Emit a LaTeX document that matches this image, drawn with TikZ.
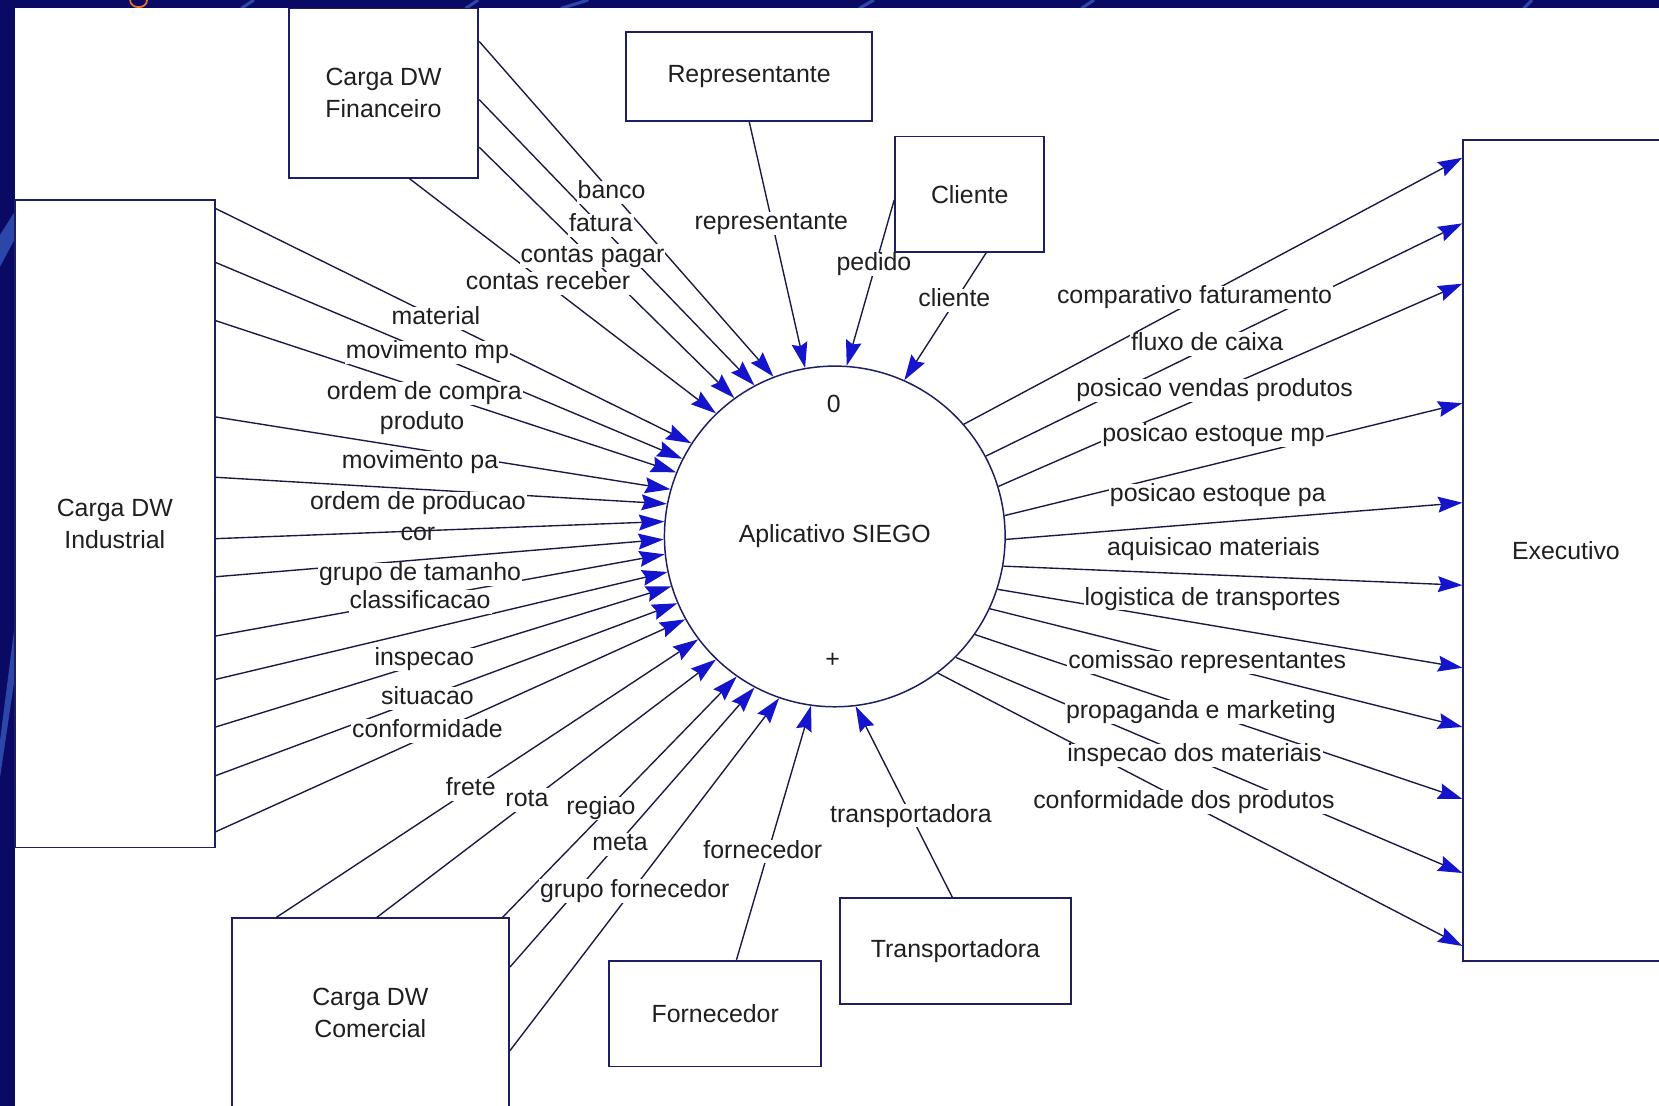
\documentclass[tikz,border=0pt]{standalone}
\usepackage{fontspec}
\setmainfont{Liberation Sans}
\usetikzlibrary{arrows.meta,calc}
\definecolor{slidenavy}{RGB}{10,10,100}
\definecolor{swoosh}{RGB}{45,70,170}
\definecolor{boxline}{RGB}{30,30,100}
\definecolor{flowline}{RGB}{25,25,70}
\definecolor{tipblue}{RGB}{20,20,205}
\definecolor{titleorange}{RGB}{240,120,40}
\begin{document}
\begin{tikzpicture}[x=1pt,y=-1pt,
  every node/.style={font=\fontsize{23.5}{30}\selectfont, text=black!88},
  entity/.style={draw=boxline, line width=1.8pt, fill=white, align=center, inner sep=0pt},
  process/.style={draw=boxline, line width=1.4pt, circle, minimum size=322pt, inner sep=0pt, fill=white},
  lbl/.style={fill=white, inner sep=1pt, text height=16pt, text depth=4pt},
  lblclear/.style={inner sep=1pt, text height=16pt, text depth=4pt},
  inflow/.style={draw=flowline, line width=1.3pt, -{Stealth[length=24pt,width=15pt,inset=3pt,color=tipblue]}},
  outflow/.style={draw=flowline, line width=1.3pt, -{Stealth[length=23pt,width=15pt,inset=3pt,color=tipblue]}},
]
\useasboundingbox (0,0) rectangle (1568,1045);
\begin{scope}
\clip (0,0) rectangle (1568,1045);

% slide frame and drawing sheet
\fill[slidenavy] (0,0) rectangle (1568,1045);
\fill[swoosh] (0,222) -- (14,200) -- (14,226) -- (0,252) -- cycle;
\fill[swoosh] (0,700) -- (14,590) -- (14,640) -- (0,735) -- cycle;
\foreach \xa/\xb in {228/240, 440/452, 530/556, 812/826, 1022/1034, 1440/1448}
  \draw[swoosh, line width=3pt] (\xa,8) -- (\xb,0);
\draw[titleorange, line width=1.6pt] (123,0) .. controls (123,9) and (139,9) .. (139,0);
\fill[white] (14,8) rectangle (1568,1045);

% external entities
\node[entity, minimum width=179pt, minimum height=160pt] (fin) at (362.5,88) {Carga DW\\Financeiro};
\node[entity, minimum width=189pt, minimum height=612pt] (ind) at (108.5,495) {Carga DW\\Industrial};
\node[entity, minimum width=232pt, minimum height=84pt] (rep) at (708,72) {Representante};
\node[entity, minimum width=141pt, minimum height=109pt] (cli) at (916.5,183.5) {Cliente};
\node[entity, minimum width=194pt, minimum height=776pt] (exe) at (1480,520) {Executivo};
\node[entity, minimum width=262pt, minimum height=179pt] (com) at (350,957.5) {Carga DW\\Comercial};
\node[entity, minimum width=200pt, minimum height=100pt] (forn) at (676,958) {Fornecedor};
\node[entity, minimum width=218pt, minimum height=100pt] (tra) at (903,899) {Transportadora};

% the process
\node[process] (siego) at (789,507) {Aplicativo SIEGO};
\node (pnum) at (788,382) {0};
\node (pplus) at (787,624) {+};

% flows from Carga DW Financeiro
\draw[inflow] ($(fin.north east)+(0,32)$) -- (siego.111.3);
\draw[inflow] ($(fin.north east)+(0,87)$) -- (siego.118.3);
\draw[inflow] ($(fin.north east)+(0,132)$) -- (siego.126.3);
\draw[inflow] ($(fin.south west)+(115,0)$) -- (siego.134.8);

% flows from Representante and Cliente
\draw[inflow] ($(rep.south west)+(117,0)$) -- (siego.100.8);
\draw[inflow] ($(cli.north west)+(0,61)$) -- (siego.86.2);
\draw[inflow] ($(cli.south west)+(87,0)$) -- (siego.66.3);

% flows from Carga DW Industrial
\foreach \dy/\ang in {9/147.5, 60/153, 115/158.6, 206/164.2, 263/169.8, 321/175.4,
                      357/181, 413/186.6, 454/192.2, 499/197.8, 545/203.4, 598/209}
  \draw[inflow] ($(ind.north east)+(0,\dy)$) -- (siego.\ang);

% flows from Carga DW Comercial
\draw[inflow] ($(com.north west)+(43,0)$) -- (siego.217);
\draw[inflow] ($(com.north west)+(138,0)$) -- (siego.226.7);
\draw[inflow] ($(com.north east)+(-7,0)$) -- (siego.235.1);
\draw[inflow] ($(com.north east)+(0,47)$) -- (siego.242.9);
\draw[inflow] ($(com.north east)+(0,126)$) -- (siego.251.6);

% flows from Fornecedor and Transportadora
\draw[inflow] ($(forn.north west)+(121,0)$) -- (siego.262.2);
\draw[inflow] ($(tra.north west)+(107,0)$) -- (siego.277.4);

% flows to Executivo
\foreach \ang/\dy in {41.8/18, 28.1/80, 17.5/137, 7.1/250, -1.1/344, -10.8/422,
                      -18.3/500, -25.9/556, -35.9/624, -45/694, -53.6/763}
  \draw[outflow] (siego.\ang) -- ($(exe.north west)+(0,\dy)$);

% flow labels
\node[lbl] (t-banco) at (578,182) {banco};
\node[lbl] (t-fatura) at (568,213) {fatura};
\node[lbl] (t-cpagar) at (560,242) {contas pagar};
\node[lbl] (t-creceber) at (518,268) {contas receber};
\node[lbl] (t-repr) at (729,211) {representante};
\node[lbl] (t-pedido) at (826,250) {pedido};
\node[lbl] (t-cliente) at (902,284) {cliente};

\node[lbl] (t-material) at (412,301) {material};
\node[lbl] (t-movmp) at (404,333) {movimento mp};
\node[lbl] (t-ocompra) at (401,372) {ordem de compra};
\node[lbl] (t-produto) at (399,400) {produto};
\node[lbl] (t-movpa) at (397,437) {movimento pa};
\node[lbl] (t-oproducao) at (395,476) {ordem de producao};
\node[lblclear] (t-cor) at (395,505) {cor};
\node[lbl] (t-gtamanho) at (397,543) {grupo de tamanho};
\node[lbl] (t-classif) at (397,569) {classificacao};
\node[lbl] (t-inspecao) at (401,623) {inspecao};
\node[lbl] (t-situacao) at (404,660) {situacao};
\node[lbl] (t-conform) at (404,691) {conformidade};

\node[lbl] (t-frete) at (445,746) {frete};
\node[lbl] (t-rota) at (498,756) {rota};
\node[lbl] (t-regiao) at (568,764) {regiao};
\node[lbl] (t-meta) at (586,798) {meta};
\node[lbl] (t-gforn) at (600,842) {grupo fornecedor};
\node[lbl] (t-forn) at (721,805) {fornecedor};
\node[lbl] (t-transp) at (861,771) {transportadora};

\node[lbl] (t-compfat) at (1129,281) {comparativo faturamento};
\node[lbl] (t-fluxo) at (1141,325) {fluxo de caixa};
\node[lbl] (t-vendas) at (1148,369) {posicao vendas produtos};
\node[lbl] (t-estmp) at (1147,411) {posicao estoque mp};
\node[lbl] (t-estpa) at (1151,468) {posicao estoque pa};
\node[lbl] (t-aquis) at (1147,519) {aquisicao materiais};
\node[lbl] (t-logist) at (1146,566) {logistica de transportes};
\node[lbl] (t-comiss) at (1141,626) {comissao representantes};
\node[lbl] (t-propag) at (1135,673) {propaganda e marketing};
\node[lbl] (t-inspmat) at (1129,714) {inspecao dos materiais};
\node[lbl] (t-confprod) at (1119,758) {conformidade dos produtos};
\end{scope}
\end{tikzpicture}
\end{document}
